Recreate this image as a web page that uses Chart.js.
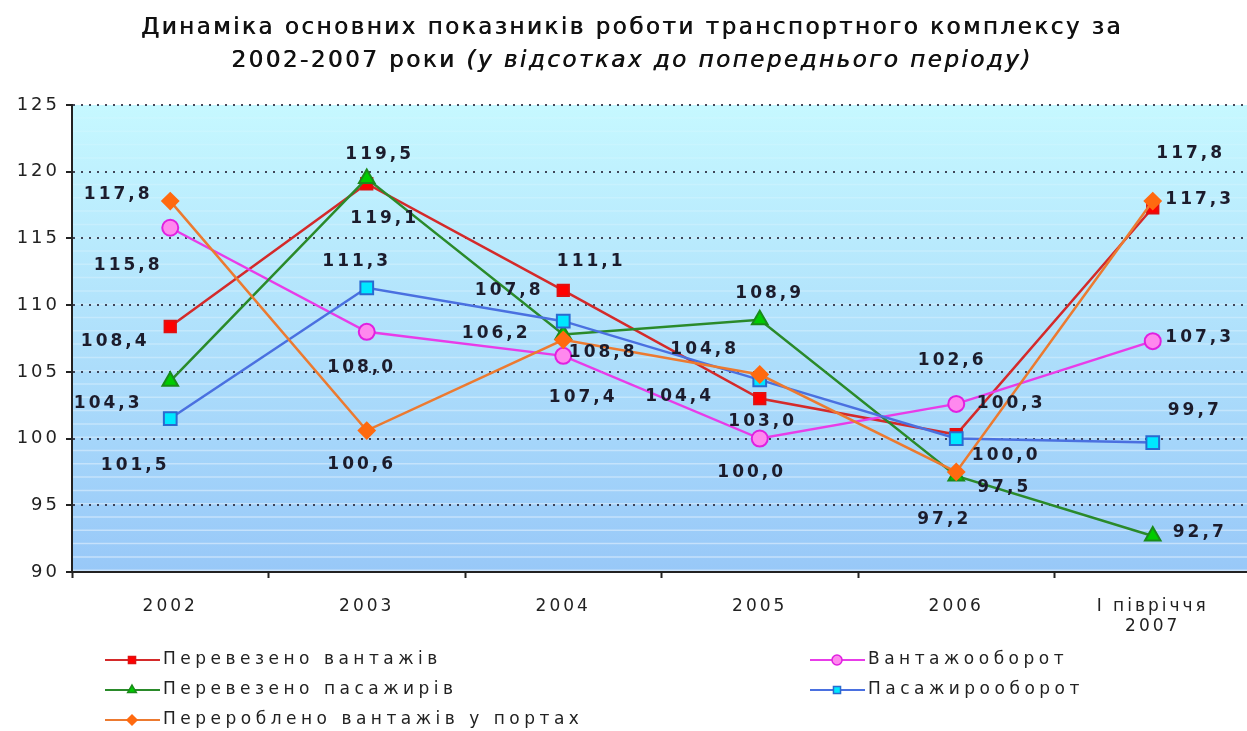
<!DOCTYPE html>
<html>
<head>
<meta charset="utf-8">
<script src="https://cdn.jsdelivr.net/npm/chart.js@4.4.0/dist/chart.umd.min.js"></script>
<style>
  body { margin: 0; background: #fff; overflow: hidden; }
  #wrap { position: relative; width: 1247px; height: 731px; overflow: hidden; }
  #title {
    position: absolute; left: 0; top: 10px; width: 1264px; text-align: center;
    font-family: "DejaVu Sans", sans-serif; font-size: 23px; line-height: 33px;
    letter-spacing: 2.5px; color: #111; text-shadow: 0.6px 0 0 #111;
  }
  #chart { position: absolute; left: 0; top: 0; }
</style>
</head>
<body>
<div id="wrap">
  <canvas id="chart" width="1262" height="731"></canvas>
  <div id="title">Динаміка основних показників роботи транспортного комплексу за<br>2002-2007 роки <i>(у відсотках до попереднього періоду)</i></div>
</div>
<script>
const categories = ["2002", "2003", "2004", "2005", "2006", ["I півріччя", "2007"]];
const yTicks = [90, 95, 100, 105, 110, 115, 120, 125];

const seriesNames = [
  "Перевезено вантажів",
  "Вантажооборот",
  "Перевезено пасажирів",
  "Пасажирооборот",
  "Перероблено вантажів у портах"
];

const freightCarried = [108.4, 119.1, 111.1, 103.0, 100.3, 117.3];
const freightTurnover = [115.8, 108.0, 106.2, 100.0, 102.6, 107.3];
const passengersCarried = [104.3, 119.5, 107.8, 108.9, 97.2, 92.7];
const passengerTurnover = [101.5, 111.3, 108.8, 104.4, 100.0, 99.7];
const portCargo = [117.8, 100.6, 107.4, 104.8, 97.5, 117.8];

// label offsets (px) from each point, as placed in the original
const labelOffsets = [
  [[-55, 15], [18, 35], [28, -29], [3, 23], [55, -31], [47, -8]],
  [[-42, 38], [-5, 36], [-67, -22], [-8, 34], [-4, -43], [47, -4]],
  [[-62, 22], [13, -24], [-54, -44], [10, -26], [-12, 44], [47, -3]],
  [[-35, 47], [-10, -26], [40, 31], [-80, 17], [50, 17], [42, -32]],
  [[-52, -6], [-5, 34], [20, 58], [-55, -25], [48, 16], [38, -47]]
];

const styles = [
  { line: "#d42a2a", fill: "#ff0000", border: "#e01010", shape: "rect", r: 8 },
  { line: "#e83ce8", fill: "#ff88ee", border: "#e020e0", shape: "circle", r: 8 },
  { line: "#2a8a2a", fill: "#00cc00", border: "#1a8a1a", shape: "triangle", r: 9 },
  { line: "#4a70e0", fill: "#00e8ff", border: "#2a6ad0", shape: "rect", r: 9 },
  { line: "#ec7a30", fill: "#ff6a10", border: "#ff6a10", shape: "rectRot", r: 8 }
];

const seriesData = [freightCarried, freightTurnover, passengersCarried, passengerTurnover, portCargo];

const datasets = seriesData.map((d, i) => ({
  label: seriesNames[i],
  data: d,
  borderColor: styles[i].line,
  backgroundColor: styles[i].fill,
  pointBackgroundColor: styles[i].fill,
  pointBorderColor: styles[i].border,
  pointBorderWidth: 2,
  pointStyle: styles[i].shape,
  pointRadius: styles[i].r,
  borderWidth: 2.5,
  tension: 0,
  order: seriesData.length - i
}));

const plotBackground = {
  id: "plotBackground",
  beforeDraw(chart) {
    const { ctx, chartArea: a } = chart;
    const g = ctx.createLinearGradient(0, a.top, 0, a.bottom);
    g.addColorStop(0, "#c6f8ff");
    g.addColorStop(1, "#98c8f8");
    ctx.save();
    ctx.fillStyle = g;
    ctx.fillRect(a.left, a.top, a.right - a.left, a.bottom - a.top);
    // faint banding of the old gradient
    for (let y = a.top + 13; y < a.bottom; y += 13.3) {
      const t = (y - a.top) / (a.bottom - a.top);
      ctx.strokeStyle = "rgba(255,255,255," + (0.1 + 0.35 * t).toFixed(2) + ")";
      ctx.lineWidth = 1.5;
      ctx.beginPath();
      ctx.moveTo(a.left, y);
      ctx.lineTo(a.right, y);
      ctx.stroke();
    }
    ctx.restore();
    ctx.letterSpacing = "3px";
  },
  afterDraw(chart) {
    chart.ctx.letterSpacing = "0px";
  }
};

const pointLabels = {
  id: "pointLabels",
  afterDatasetsDraw(chart) {
    const ctx = chart.ctx;
    ctx.save();
    ctx.font = "bold 17px 'DejaVu Sans'";
    ctx.letterSpacing = "3px";
    ctx.fillStyle = "#1c1c2c";
    ctx.textAlign = "center";
    ctx.textBaseline = "middle";
    chart.data.datasets.forEach((ds, i) => {
      const meta = chart.getDatasetMeta(i);
      meta.data.forEach((pt, j) => {
        const off = labelOffsets[i][j];
        const txt = ds.data[j].toFixed(1).replace(".", ",");
        ctx.fillText(txt, pt.x + off[0], pt.y + off[1]);
      });
    });
    ctx.restore();
  }
};

const sideLegend = {
  id: "sideLegend",
  afterDraw(chart) {
    const ctx = chart.ctx;
    const cols = [105, 810];
    const rows = [660, 690, 720];
    ctx.save();
    ctx.font = "17px 'DejaVu Sans'";
    ctx.letterSpacing = "4.5px";
    ctx.textBaseline = "middle";
    ctx.textAlign = "left";
    chart.data.datasets.forEach((ds, i) => {
      const x = cols[i % 2];
      const y = rows[Math.floor(i / 2)];
      ctx.strokeStyle = ds.borderColor;
      ctx.lineWidth = 2;
      ctx.beginPath();
      ctx.moveTo(x, y);
      ctx.lineTo(x + 55, y);
      ctx.stroke();
      ctx.fillStyle = ds.pointBackgroundColor;
      ctx.strokeStyle = ds.pointBorderColor;
      ctx.lineWidth = 1.5;
      Chart.helpers.drawPoint(ctx, { pointStyle: ds.pointStyle, radius: 5, rotation: 0, borderWidth: 1.5 }, x + 27, y);
      ctx.fillStyle = "#222";
      ctx.fillText(ds.label, x + 58, y);
    });
    ctx.restore();
  }
};

new Chart(document.getElementById("chart").getContext("2d"), {
  type: "line",
  data: { labels: categories, datasets: datasets },
  plugins: [plotBackground, pointLabels, sideLegend],
  options: {
    responsive: false,
    animation: false,
    layout: { padding: { top: 105, left: 0, right: 3, bottom: 0 } },
    plugins: { legend: { display: false }, tooltip: { enabled: false } },
    scales: {
      x: {
        offset: true,
        afterFit(s) { s.height = 159; },
        grid: {
          offset: true, drawOnChartArea: false, drawTicks: true,
          tickLength: 6, tickColor: "#222", tickWidth: 2
        },
        border: { display: true, color: "#222", width: 2 },
        ticks: {
          color: "#222", padding: 18, maxRotation: 0, autoSkip: false,
          font: { family: "'DejaVu Sans'", size: 17 }
        }
      },
      y: {
        min: yTicks[0],
        max: yTicks[yTicks.length - 1],
        afterFit(s) { s.width = 72; },
        afterBuildTicks(s) { s.ticks = yTicks.map(v => ({ value: v })); },
        grid: {
          color: "rgba(40,40,60,0.85)", lineWidth: 2,
          tickLength: 6, tickColor: "#222", tickWidth: 2, tickBorderDash: []
        },
        border: { display: true, color: "#222", width: 2, dash: [2, 6] },
        ticks: {
          color: "#222", padding: 6,
          font: { family: "'DejaVu Sans'", size: 18 }
        }
      }
    }
  }
});
</script>
</body>
</html>
